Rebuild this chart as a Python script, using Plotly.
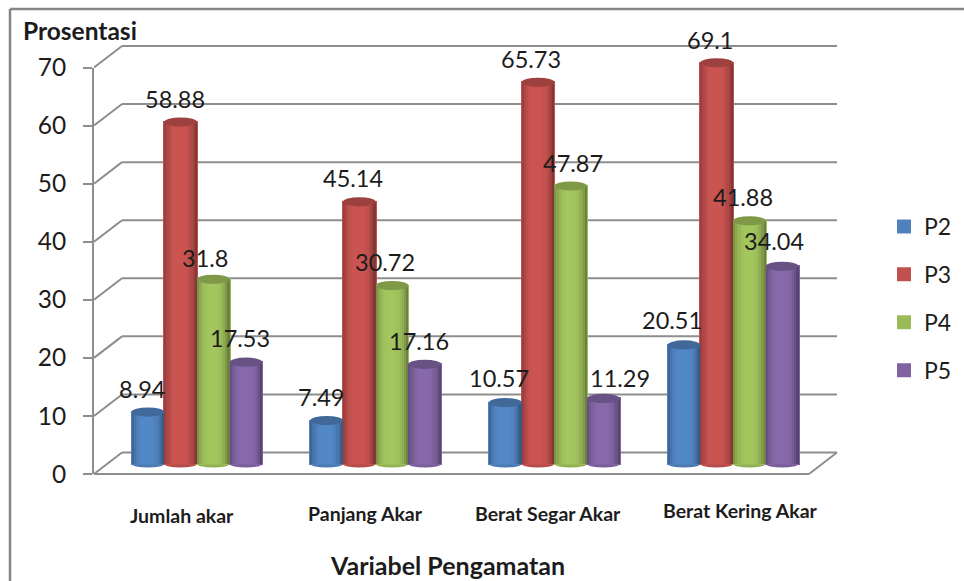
import plotly.graph_objects as go

# ---- data ----
categories = ["Jumlah akar", "Panjang Akar", "Berat Segar Akar", "Berat Kering Akar"]
P2 = [8.94, 7.49, 10.57, 20.51]
P3 = [58.88, 45.14, 65.73, 69.1]
P4 = [31.8, 30.72, 47.87, 41.88]
P5 = [17.53, 17.16, 11.29, 34.04]
series_names = ["P2", "P3", "P4", "P5"]
series_values = [P2, P3, P4, P5]
y_ticks = [0, 10, 20, 30, 40, 50, 60, 70]

# ---- styles / geometry ----
W, H = 964, 581
colors = [(79, 129, 189), (192, 80, 77), (155, 187, 89), (128, 100, 162)]
FONT = "Lato"
TEXT = "#1c1c1c"
GRID = "#8e8e8e"
PX_PER_X = 178.7          # pixels per category
PX_PER_Y = 5.807          # pixels per value unit
X0_PX = 197.0             # pixel centre of first category
ZERO_BAR_PX = 464.0       # pixel of value 0 on the bar axis
ZERO_FRONT_PX = 474.0     # pixel of value 0 on the front (tick) axis
ZERO_BACK_PX = 452.5      # pixel of value 0 on the back wall
LEFT_PX, BACK_LEFT_PX, FRONT_RIGHT_PX, BACK_RIGHT_PX = 94.0, 122.0, 809.0, 837.0
BAR_W = 32.7 / PX_PER_X
SLICES = 15
CAP_H = 4.6 / PX_PER_Y
FOOT_H = 3.4 / PX_PER_Y
offsets = [-1.5 * BAR_W, -0.5 * BAR_W, 0.5 * BAR_W, 1.5 * BAR_W]

# label shift from bar top, in pixels (per series, per category)
label_dx = [[-6, -6, -6, -12], [-6, -6, -7, -7], [-8, -7, 2, -6], [-6, -6, 17, -8]]
label_dy = [[23, 23.5, 24.5, 25], [23, 24, 23, 23], [21, 24, 23, 24], [24, 23, 20, 25]]
cat_dx = [-15, -10, -6, 7]
cat_y_px = [515, 513, 513, 510]


def px_x(p):
    return (p - X0_PX) / PX_PER_X


def front_v(v):
    return v + (ZERO_BAR_PX - ZERO_FRONT_PX) / PX_PER_Y


def back_v(v):
    return v + (ZERO_BAR_PX - ZERO_BACK_PX) / PX_PER_Y


def rgb(c, f):
    return "rgb(%d,%d,%d)" % tuple(min(255, int(k * f)) for k in c)


fig = go.Figure()
xs = list(range(len(categories)))

# main bars (legend entries)
for name, vals, col, off in zip(series_names, series_values, colors, offsets):
    fig.add_trace(go.Bar(
        name=name, x=[i + off for i in xs], y=vals, width=BAR_W,
        marker=dict(color=rgb(col, 1.0), line=dict(color=rgb(col, 1.0), width=2)),
        legendgroup=name, hoverinfo="name+y", yaxis="y",
    ))

# cylinder shading
for name, vals, col, off in zip(series_names, series_values, colors, offsets):
    sw = BAR_W / SLICES
    for s in range(SLICES):
        t = -1 + (2 * s + 1) / SLICES
        f = 1.06 - 0.38 * abs(t + 0.05) ** 3
        fig.add_trace(go.Bar(
            x=[i + off + t * BAR_W / 2 for i in xs], y=vals, width=sw * 1.08,
            marker=dict(color=rgb(col, f), line=dict(width=0)),
            showlegend=False, legendgroup=name, hoverinfo="skip", yaxis="y",
        ))

# invisible trace so the tick axis gets drawn
fig.add_trace(go.Scatter(
    x=[xs[0]] * len(y_ticks), y=y_ticks, yaxis="y2", mode="markers",
    marker=dict(opacity=0), showlegend=False, hoverinfo="skip",
))

shapes = []
line = dict(color=GRID, width=2)
# walls and floor, positioned from the tick values
for v in y_ticks:
    shapes.append(dict(type="line", xref="x", yref="y", layer="below", line=line,
                       x0=px_x(LEFT_PX), y0=front_v(v), x1=px_x(BACK_LEFT_PX), y1=back_v(v)))
    shapes.append(dict(type="line", xref="x", yref="y", layer="below", line=line,
                       x0=px_x(BACK_LEFT_PX), y0=back_v(v), x1=px_x(BACK_RIGHT_PX), y1=back_v(v)))
shapes.append(dict(type="line", xref="x", yref="y", layer="below", line=line,
                   x0=px_x(LEFT_PX), y0=front_v(0), x1=px_x(FRONT_RIGHT_PX), y1=front_v(0)))
shapes.append(dict(type="line", xref="x", yref="y", layer="below", line=line,
                   x0=px_x(FRONT_RIGHT_PX), y0=front_v(0), x1=px_x(BACK_RIGHT_PX), y1=back_v(0)))

# chart frame
frame = dict(color="#858585", width=2.5)
shapes.append(dict(type="line", xref="paper", yref="paper", line=frame,
                   x0=10 / W, y0=1 - 9 / H, x1=1, y1=1 - 9 / H))
shapes.append(dict(type="line", xref="paper", yref="paper", line=frame,
                   x0=10 / W, y0=1 - 9 / H, x1=10 / W, y1=0))

# cylinder feet and caps, from the values
for vals, col, off in zip(series_values, colors, offsets):
    for i, v in enumerate(vals):
        cx = i + off
        shapes.append(dict(type="circle", xref="x", yref="y", layer="below",
                           fillcolor=rgb(col, 0.95), line=dict(width=0),
                           x0=cx - BAR_W / 2, x1=cx + BAR_W / 2, y0=-FOOT_H, y1=FOOT_H))
        shapes.append(dict(type="circle", xref="x", yref="y", layer="above",
                           fillcolor=rgb(col, 0.82), line=dict(width=0),
                           x0=cx - BAR_W / 2, x1=cx + BAR_W / 2, y0=v - CAP_H, y1=v + CAP_H))

annotations = []
for s, (vals, off) in enumerate(zip(series_values, offsets)):
    for i, v in enumerate(vals):
        annotations.append(dict(
            x=i + off, y=v, xref="x", yref="y", text=str(v), showarrow=False,
            xanchor="center", yanchor="middle",
            xshift=label_dx[s][i], yshift=label_dy[s][i],
            font=dict(family=FONT, size=23.5, color=TEXT)))

for i, c in enumerate(categories):
    annotations.append(dict(
        x=i, y=(ZERO_BAR_PX - cat_y_px[i]) / PX_PER_Y, xref="x", yref="y", text="<b>%s</b>" % c,
        showarrow=False, xanchor="center", yanchor="middle", xshift=cat_dx[i],
        font=dict(family=FONT, size=19.5, color=TEXT)))

annotations.append(dict(x=21 / W, y=1 - 31 / H, xref="paper", yref="paper", text="<b>Prosentasi</b>",
                        showarrow=False, xanchor="left", yanchor="middle",
                        font=dict(family=FONT, size=24.5, color=TEXT)))
annotations.append(dict(x=447 / W, y=1 - 565 / H, xref="paper", yref="paper",
                        text="<b>Variabel Pengamatan</b>", showarrow=False,
                        xanchor="center", yanchor="middle",
                        font=dict(family=FONT, size=25, color=TEXT)))

fig.update_layout(
    width=W, height=H, autosize=False,
    margin=dict(l=0, r=0, t=0, b=0, pad=0, autoexpand=False),
    paper_bgcolor="white", plot_bgcolor="rgba(0,0,0,0)",
    barmode="overlay", bargap=0,
    font=dict(family=FONT, color=TEXT),
    xaxis=dict(domain=[LEFT_PX / W, 1], range=[px_x(LEFT_PX), px_x(W)],
               visible=False, fixedrange=True),
    yaxis=dict(domain=[0, 1], visible=False, fixedrange=True,
               range=[(ZERO_BAR_PX - H) / PX_PER_Y, ZERO_BAR_PX / PX_PER_Y]),
    yaxis2=dict(domain=[(H - ZERO_FRONT_PX) / H, (H - ZERO_FRONT_PX + 70 * PX_PER_Y) / H],
                range=[0, 70], anchor="x", side="left", tickvals=y_ticks,
                ticks="outside", ticklen=9, tickwidth=2, tickcolor=GRID,
                showline=True, linecolor=GRID, linewidth=2, showgrid=False, zeroline=False,
                ticklabelstandoff=12, tickfont=dict(family=FONT, size=24.5, color=TEXT),
                fixedrange=True),
    legend=dict(x=884 / W, y=1 - 205 / H, xanchor="left", yanchor="top",
                font=dict(family=FONT, size=23, color=TEXT),
                traceorder="grouped", tracegroupgap=15, bgcolor="rgba(0,0,0,0)"),
    shapes=shapes, annotations=annotations,
)

fig.write_html("out.html", config={"displayModeBar": False},
               post_script="document.body.style.margin='0';")
